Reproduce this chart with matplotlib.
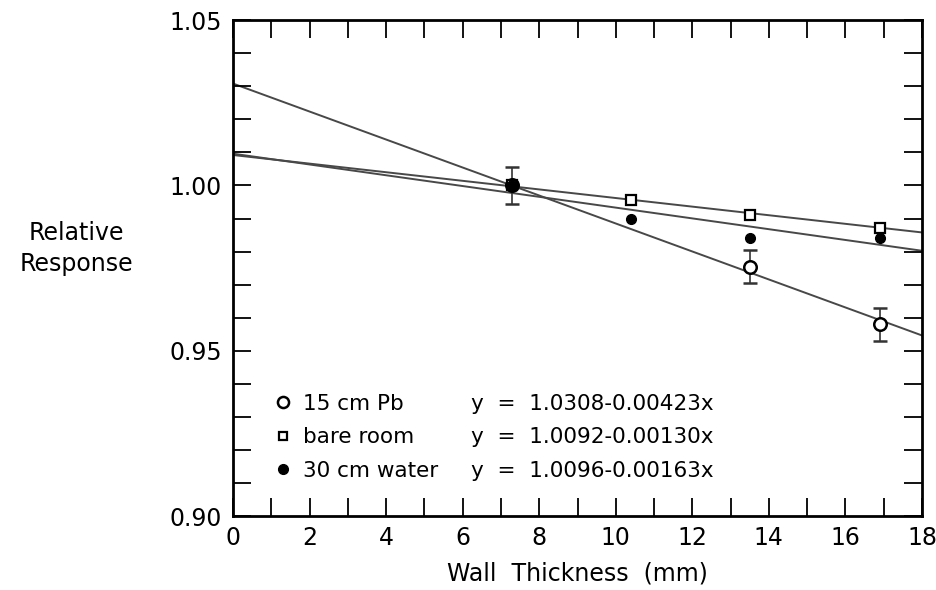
import matplotlib.pyplot as plt
from matplotlib.lines import Line2D
from matplotlib.ticker import MultipleLocator
import numpy as np

plt.rcParams['font.family'] = ['DejaVu Sans']

# Measured points
pb_x = [7.3, 13.5, 16.9]
pb_y = [1.000, 0.9755, 0.958]
pb_err = [0.0055, 0.005, 0.005]

bare_x = [7.3, 10.4, 13.5, 16.9]
bare_y = [1.000, 0.9955, 0.991, 0.987]

water_x = [7.3, 10.4, 13.5, 16.9]
water_y = [1.000, 0.990, 0.984, 0.984]

# Fit coefficients (intercept, slope)
fits = {'15 cm Pb': (1.0308, -0.00423),
        'bare room': (1.0092, -0.00130),
        '30 cm water': (1.0096, -0.00163)}

fig = plt.figure(figsize=(9.36, 5.9), dpi=100)
ax = fig.add_axes([0.249, 0.125, 0.736, 0.841])

xx = np.array([0, 18])
for name, (a, b) in fits.items():
    ax.plot(xx, a + b * xx, color='#484848', lw=1.4, zorder=1)

ax.errorbar(pb_x, pb_y, yerr=pb_err, fmt='o', mfc='white', mec='black', mew=1.8,
            ms=9, ecolor='#333333', elinewidth=1.2, capsize=5, zorder=3)
ax.plot(bare_x, bare_y, 's', mfc='white', mec='black', mew=1.6, ms=6.5, zorder=4)
ax.plot(water_x, water_y, 'o', color='black', ms=7, zorder=5)

ax.set_xlim(0, 18)
ax.set_ylim(0.90, 1.05)
ax.xaxis.set_major_locator(MultipleLocator(2))
ax.xaxis.set_minor_locator(MultipleLocator(1))
ax.yaxis.set_minor_locator(MultipleLocator(0.01))
ax.set_yticks([0.90, 0.95, 1.00, 1.05])
ax.set_yticklabels(['0.90', '0.95', '1.00', '1.05'])
ax.tick_params(which='both', direction='in', top=True, right=True,
               length=13, width=1.3, labelsize=17, pad=8)
ax.tick_params(axis='x', pad=7)
for s in ax.spines.values():
    s.set_linewidth(2)

ax.set_xlabel('Wall  Thickness  (mm)', fontsize=17, labelpad=8)
ax.set_ylabel('Relative\nResponse', fontsize=17, rotation=0, ha='center', va='center',
              linespacing=1.4)
ax.yaxis.set_label_coords(-0.228, 0.54)

handles = [Line2D([], [], ls='', marker='o', mfc='white', mec='black', mew=1.8, ms=8),
           Line2D([], [], ls='', marker='s', mfc='white', mec='black', mew=1.6, ms=6),
           Line2D([], [], ls='', marker='o', color='black', ms=7)]
names = list(fits.keys())
leg1 = ax.legend(handles, names, loc='lower left', bbox_to_anchor=(0.048, 0.05),
                 frameon=False, fontsize=15.5, handlelength=0.6, handletextpad=0.6,
                 labelspacing=0.62, borderpad=0)
ax.add_artist(leg1)
eqs = ['y  =  %.4f-%.5fx' % (a, -b) for a, b in fits.values()]
blank = [Line2D([], [], ls='') for _ in eqs]
ax.legend(blank, eqs, loc='lower left', bbox_to_anchor=(0.33, 0.05),
          frameon=False, fontsize=15.5, handlelength=0, handletextpad=0,
          labelspacing=0.62, borderpad=0)

fig.savefig('out.png', dpi=100)
